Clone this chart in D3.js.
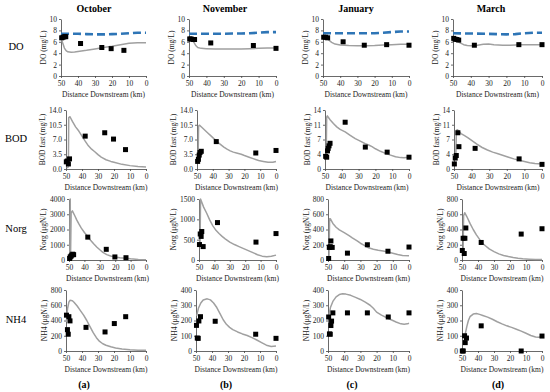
<!DOCTYPE html>
<meta charset="utf-8">
<style>
  body { margin: 0; background: #fff; }
  text { font-family: "Liberation Serif", "Times New Roman", serif; }
</style>
<script src="https://d3js.org/d3.v7.min.js"></script>
<body>
<script>
// ---- labels ----
var months = ["October", "November", "January", "March"];
var panelLetters = ["(a)", "(b)", "(c)", "(d)"];
var rowNames = ["DO", "BOD", "Norg", "NH4"];
var yTitles = ["DO (mg/L)", "BOD fast (mg/L)", "Norg (\u03bcgN/L)", "NH4 (\u03bcgN/L)"];
var xTitle = "Distance Downstream (km)";
var xTicks = [50, 40, 30, 20, 10, 0];

// y ticks
var doTicks = [0, 2, 4, 6, 8, 10];
var bodTicks = [0, 3.5, 7, 10.5, 14];
var norgTicksOct = [0, 1000, 2000, 3000, 4000];
var norgTicksNov = [0, 500, 1000, 1500];
var norgTicksLate = [0, 200, 400, 600, 800];
var nh4TicksOct = [0, 200, 400, 600, 800];
var nh4TicksLate = [0, 100, 200, 300, 400];

// ---- DO (mg/L): [km, value] ----
var doOctObs = [[49.6,6.7],[48.8,6.8],[47.8,6.9],[47.2,6.9],[38.5,5.7],[26,5.0],[20.5,4.8],[13,4.5]];
var doOctModel = [[50,6.6],[49,5.8],[48,4.9],[47,4.45],[46,4.25],[44,4.15],[42,4.2],[40,4.3],[35,4.5],[30,4.75],[25,5.0],[20,5.2],[15,5.5],[10,5.75],[5,5.85],[0,5.85]];
var doOctSat = [[50,7.4],[45,7.4],[40,7.4],[35,7.35],[30,7.3],[25,7.3],[20,7.35],[15,7.4],[10,7.5],[5,7.6],[0,7.6]];

var doNovObs = [[49.6,6.5],[48.8,6.5],[47.5,6.4],[46.8,6.4],[37.5,5.8],[13,5.35],[0,4.85]];
var doNovModel = [[50,6.5],[48,6.3],[47,5.8],[46,5.3],[45,5.0],[43,4.85],[40,4.8],[35,4.75],[30,4.75],[25,4.75],[20,4.75],[15,4.8],[10,4.85],[5,4.9],[0,4.9]];
var doNovSat = [[50,7.4],[40,7.4],[30,7.4],[25,7.45],[20,7.45],[15,7.5],[10,7.6],[5,7.7],[0,7.7]];

var doJanObs = [[49.6,6.8],[48.5,6.8],[47.3,6.7],[38.3,6.0],[26,5.4],[13,5.5],[0,5.4]];
var doJanModel = [[50,6.8],[48,6.7],[47,6.4],[45,5.9],[43,5.6],[40,5.45],[35,5.35],[30,5.3],[25,5.3],[20,5.35],[15,5.45],[10,5.5],[5,5.55],[0,5.55]];
var doJanSat = [[50,7.5],[40,7.5],[30,7.5],[20,7.5],[15,7.6],[10,7.7],[5,7.8],[0,7.8]];

var doMarObs = [[49.6,6.6],[48.8,6.45],[47.8,6.4],[46.8,6.3],[38,5.4],[13,5.5],[0,5.5]];
var doMarModel = [[50,6.6],[48,6.3],[46,5.8],[44,5.5],[42,5.35],[40,5.3],[37,5.35],[33,5.55],[30,5.6],[27,5.5],[22,5.4],[18,5.4],[12,5.5],[6,5.5],[0,5.5]];
var doMarSat = [[50,7.5],[40,7.45],[30,7.4],[25,7.35],[20,7.3],[15,7.35],[10,7.5],[5,7.6],[0,7.6]];

// ---- BOD fast (mg/L) ----
var bodOctObs = [[49.8,1.7],[49.2,1.9],[48.5,1.2],[47.8,2.4],[38,7.8],[25.8,8.6],[20.3,7.1],[12.8,4.6]];
var bodOctModel = [[49.5,0.3],[48.5,0.5],[48.3,12.2],[47.5,12.4],[46,11.3],[44,10],[42,9],[40,7.8],[38,6.6],[36,5.5],[34,4.7],[32,4.1],[30,3.4],[28,2.8],[25,2.2],[22,1.8],[20,1.6],[15,1.1],[10,0.8],[5,0.6],[0,0.5]];

var bodNovObs = [[49.6,1.8],[49.1,2.3],[48.6,3.3],[48.1,3.9],[47.3,4.2],[37.8,6.5],[12.8,3.8],[0,4.4]];
var bodNovModel = [[49.3,2.5],[49,10.2],[48.5,10.4],[47,9.9],[45,9.2],[43,8.5],[41,7.8],[39,7.1],[37,6.4],[35,5.8],[33,5.2],[31,4.7],[29,4.3],[27,4.0],[25,3.8],[22,3.5],[20,3.2],[17,2.8],[14,2.4],[11,2.0],[8,1.8],[5,1.6],[2,1.6],[0,1.8]];

var bodJanObs = [[49.6,3.0],[49,2.8],[48.5,4.3],[48.1,4.9],[47.6,5.5],[47,6.1],[38,11.1],[26,5.2],[13,4.0],[0,2.8]];
var bodJanModel = [[49.3,3.0],[49,12.3],[48.6,12.6],[47,11.7],[45,10.8],[43,10.0],[41,9.4],[38,8.8],[35,8.0],[32,7.2],[29,6.6],[26,6.0],[24,5.7],[22,5.3],[20,4.8],[17,4.2],[14,3.7],[11,3.3],[8,2.9],[5,2.7],[3,2.65],[0,2.8]];

var bodMarObs = [[49.8,1.2],[49.3,2.6],[48.7,3.2],[47.8,8.6],[47.2,5.3],[38,4.9],[13,2.4],[0,1.1]];
var bodMarModel = [[49,3.0],[48.6,9.2],[48,9.3],[46,8.4],[44,7.9],[42,7.4],[40,6.8],[37,5.9],[34,5.1],[31,4.5],[28,4.0],[25,3.6],[22,3.2],[19,2.8],[16,2.4],[13,2.1],[10,1.8],[7,1.5],[4,1.3],[0,1.2]];

// ---- Norg (ugN/L) ----
var norgOctObs = [[49.6,100],[49.2,200],[48.7,250],[48.2,320],[47.6,380],[47,350],[37.8,1500],[25.8,700],[20.2,200],[13,150]];
var norgOctModel = [[49.5,100],[49.2,4000],[49.0,200],[48.6,3100],[47.8,3220],[46,2850],[45,2630],[43.5,2350],[42,2090],[40,1800],[38.5,1620],[36,1300],[34,1060],[32,850],[30,670],[28,500],[25.5,350],[23,260],[20,190],[17,150],[13,120],[10,80],[5,40],[0,20]];

var norgNovObs = [[49.7,380],[49.2,640],[48.6,580],[48.2,700],[47.3,330],[38,920],[13,440],[0,650]];
var norgNovModel = [[49.3,400],[49,1500],[48.5,1450],[47,1300],[45,1150],[43,980],[41,840],[39,730],[37,650],[35,580],[33,520],[30,440],[27,380],[24,330],[21,280],[18,230],[15,180],[12,130],[9,95],[6,80],[3,90],[0,120]];

var norgJanObs = [[49.6,20],[49.2,165],[48.6,175],[48.2,250],[47.4,165],[38,90],[25.7,200],[13,115],[0,170]];
var norgJanModel = [[49.4,30],[49,540],[48.5,540],[47,480],[45,430],[43,395],[40,360],[37,320],[35,290],[32,250],[30,220],[27,185],[25,160],[22,140],[19,128],[16,118],[13,105],[10,88],[7,72],[4,60],[0,55]];

var norgMarObs = [[49.8,125],[49.3,285],[48.6,85],[48.2,285],[47.6,420],[38,230],[13,340],[0,410]];
var norgMarModel = [[49.3,100],[49,580],[48.3,620],[47,570],[45,480],[43,400],[41,330],[39,270],[38,240],[37,215],[35,180],[33,145],[30,110],[27,80],[24,60],[21,45],[18,32],[15,22],[12,15],[8,10],[4,6],[0,5]];

// ---- NH4 (ugN/L) ----
var nh4OctObs = [[49.7,470],[49.1,280],[48.6,220],[48.2,450],[47.5,395],[37.5,310],[25.6,250],[19.8,360],[12.7,450]];
var nh4OctModel = [[49.8,380],[49,560],[48.2,640],[47.5,665],[46,660],[45,640],[43,590],[41,530],[39,470],[37,400],[35,320],[33,240],[31,175],[29,125],[27,95],[25,75],[22,55],[19,40],[15,25],[10,15],[5,10],[0,10]];

var nh4NovObs = [[49.7,168],[49.2,85],[48.6,83],[48.2,197],[47.2,225],[38,195],[12.7,110],[0,83]];
var nh4NovModel = [[49.6,230],[48.5,280],[47,315],[45.5,335],[43,342],[41,335],[39,315],[37,285],[35,245],[33,205],[31,175],[29,155],[27,140],[24,125],[21,112],[18,102],[15,88],[12,72],[9,55],[6,38],[3,30],[0,33]];

var nh4JanObs = [[49.6,223],[49.1,112],[48.6,110],[48.2,167],[47.8,196],[47,250],[38,250],[25.7,250],[12.8,223],[0,250]];
var nh4JanModel = [[49.5,230],[48.5,285],[47,325],[45,355],[43,370],[41,375],[39,373],[36,365],[33,352],[30,338],[27,320],[24,300],[22,280],[20,255],[17,235],[14,220],[11,205],[8,190],[5,178],[3,175],[1,178],[0,182]];

var nh4MarObs = [[49.8,0],[49.2,0],[48.4,100],[48,55],[47.2,85],[38,165],[13,0],[0,98]];
var nh4MarModel = [[49,40],[48,110],[47,160],[46,200],[45,225],[43,242],[41,246],[39,240],[37,233],[34,222],[31,208],[28,192],[25,178],[22,165],[19,155],[16,143],[13,130],[10,116],[7,102],[4,92],[2,90],[0,95]];

// ---- layout (pixels) ----
var rowTop = [19, 110, 199, 290];
var rowBottom = [76, 169, 260, 351];
var colRight = [146, 276, 409, 542];
var axisLeft = [
  [61, 189, 323, 453],
  [66, 197, 325, 454],
  [69, 199, 328, 462],
  [66, 196, 328, 462]
];
var titleX = [94, 225, 356, 491];
var letterX = [84, 226, 352, 498];

var panels = [
  {r:0, c:0, obs:doOctObs, model:doOctModel, sat:doOctSat, ticks:doTicks, fmt:"d"},
  {r:0, c:1, obs:doNovObs, model:doNovModel, sat:doNovSat, ticks:doTicks, fmt:"d"},
  {r:0, c:2, obs:doJanObs, model:doJanModel, sat:doJanSat, ticks:doTicks, fmt:"d"},
  {r:0, c:3, obs:doMarObs, model:doMarModel, sat:doMarSat, ticks:doTicks, fmt:"d"},
  {r:1, c:0, obs:bodOctObs, model:bodOctModel, ticks:bodTicks, fmt:".1f"},
  {r:1, c:1, obs:bodNovObs, model:bodNovModel, ticks:bodTicks, fmt:".1f"},
  {r:1, c:2, obs:bodJanObs, model:bodJanModel, ticks:bodTicks, fmt:".0f"},
  {r:1, c:3, obs:bodMarObs, model:bodMarModel, ticks:bodTicks, fmt:".0f"},
  {r:2, c:0, obs:norgOctObs, model:norgOctModel, ticks:norgTicksOct, fmt:"d"},
  {r:2, c:1, obs:norgNovObs, model:norgNovModel, ticks:norgTicksNov, fmt:"d"},
  {r:2, c:2, obs:norgJanObs, model:norgJanModel, ticks:norgTicksLate, fmt:"d"},
  {r:2, c:3, obs:norgMarObs, model:norgMarModel, ticks:norgTicksLate, fmt:"d"},
  {r:3, c:0, obs:nh4OctObs, model:nh4OctModel, ticks:nh4TicksOct, fmt:"d"},
  {r:3, c:1, obs:nh4NovObs, model:nh4NovModel, ticks:nh4TicksLate, fmt:"d"},
  {r:3, c:2, obs:nh4JanObs, model:nh4JanModel, ticks:nh4TicksLate, fmt:"d"},
  {r:3, c:3, obs:nh4MarObs, model:nh4MarModel, ticks:nh4TicksLate, fmt:"d"}
];

var svg = d3.select("body").append("svg")
  .attr("width", 550)
  .attr("height", 392)
  .style("display", "block");

svg.append("rect").attr("width", 550).attr("height", 392).attr("fill", "#fff");

// column titles
svg.selectAll(".month").data(months).enter().append("text")
  .attr("x", function(d, i) { return titleX[i]; })
  .attr("y", 12)
  .attr("text-anchor", "middle")
  .style("font-size", "10px")
  .style("font-weight", "bold")
  .text(function(d) { return d; });

// row labels
svg.selectAll(".rowname").data(rowNames).enter().append("text")
  .attr("x", 16)
  .attr("y", function(d, i) { return (rowTop[i] + rowBottom[i]) / 2 - 1; })
  .attr("text-anchor", "middle")
  .attr("dy", "0.35em")
  .style("font-size", "10.5px")
  .text(function(d) { return d; });

// panel letters
svg.selectAll(".letter").data(panelLetters).enter().append("text")
  .attr("x", function(d, i) { return letterX[i]; })
  .attr("y", 388)
  .attr("text-anchor", "middle")
  .style("font-size", "10px")
  .style("font-weight", "bold")
  .text(function(d) { return d; });

panels.forEach(function(p) {
  var left = axisLeft[p.r][p.c];
  var right = colRight[p.c];
  var top = rowTop[p.r];
  var bottom = rowBottom[p.r];

  var x = d3.scaleLinear().domain([50, 0]).range([left, right]);
  var y = d3.scaleLinear().domain([0, d3.max(p.ticks)]).range([bottom, top]);

  var g = svg.append("g");

  var yAxis = g.append("g")
    .attr("transform", "translate(" + left + ",0)")
    .call(d3.axisLeft(y).tickValues(p.ticks).tickFormat(d3.format(p.fmt))
      .tickSize(2).tickSizeOuter(0).tickPadding(2));

  g.append("g")
    .attr("transform", "translate(0," + bottom + ")")
    .call(d3.axisBottom(x).tickValues(xTicks).tickFormat(d3.format("d"))
      .tickSize(2).tickSizeOuter(0).tickPadding(3));

  g.selectAll(".domain").attr("stroke", "#444").attr("stroke-width", 0.8);
  g.selectAll(".tick line").attr("stroke", "#444").attr("stroke-width", 0.8);
  g.selectAll(".tick text")
    .attr("fill", "#222")
    .style("font-family", "'Liberation Serif', serif")
    .style("font-size", "7.5px");

  // width of the widest y tick label, to place the y title
  var maxW = 0;
  yAxis.selectAll(".tick text").each(function() {
    maxW = Math.max(maxW, this.getComputedTextLength());
  });

  g.append("text")
    .attr("transform", "translate(" + (left - maxW - 8) + "," + ((top + bottom) / 2) + ") rotate(-90)")
    .attr("text-anchor", "middle")
    .style("font-size", "7.5px")
    .attr("fill", "#222")
    .text(yTitles[p.r]);

  g.append("text")
    .attr("x", (left + right) / 2)
    .attr("y", bottom + 21)
    .attr("text-anchor", "middle")
    .style("font-size", "7.5px")
    .attr("fill", "#222")
    .text(xTitle);

  var line = d3.line()
    .x(function(d) { return x(d[0]); })
    .y(function(d) { return y(d[1]); });

  if (p.sat) {
    g.append("path")
      .datum(p.sat)
      .attr("d", line)
      .attr("fill", "none")
      .attr("stroke", "#2E75B6")
      .attr("stroke-width", 2.6)
      .attr("stroke-dasharray", "8,4");
  }

  g.append("path")
    .datum(p.model)
    .attr("d", line)
    .attr("fill", "none")
    .attr("stroke", "#A0A0A0")
    .attr("stroke-width", 1.5)
    .attr("stroke-linejoin", "round");

  g.selectAll(".obs").data(p.obs).enter().append("rect")
    .attr("x", function(d) { return x(d[0]) - 2.5; })
    .attr("y", function(d) { return y(d[1]) - 2.5; })
    .attr("width", 5)
    .attr("height", 5)
    .attr("fill", "#000");
});
</script>
</body>
